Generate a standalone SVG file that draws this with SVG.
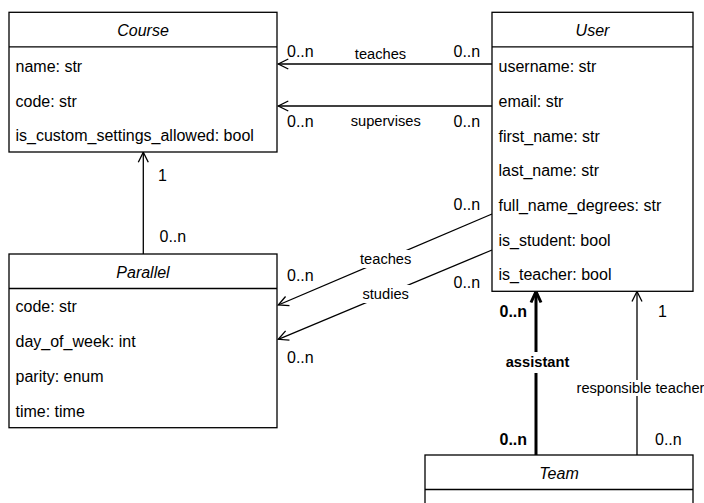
<svg xmlns="http://www.w3.org/2000/svg" width="704" height="503" viewBox="0 0 704 503">
  <defs>
    <style>
      text { font-family: "Liberation Sans", Arial, sans-serif; fill: #000; }
      .box { fill: #fff; stroke: #000; stroke-width: 1.3; }
      .sep { stroke: #000; stroke-width: 1.3; }
      .title { font-size: 16px; font-style: italic; text-anchor: middle; }
      .attr { font-size: 16px; }
      .mult { font-size: 16px; }
      .lbl { font-size: 14.67px; text-anchor: middle; }
      .bold { font-weight: bold; }
      .edge { fill: none; stroke: #000; stroke-width: 1.3; marker-end: url(#open); }
      .edge-bold { fill: none; stroke: #000; stroke-width: 3; marker-end: url(#openBold); }
      .bg { fill: #fff; stroke: none; }
    </style>
    <marker id="open" markerUnits="userSpaceOnUse" markerWidth="14" markerHeight="14" viewBox="0 0 14 14" refX="12" refY="7" orient="auto">
      <path d="M2,2 L12,7 L2,12" fill="none" stroke="#000" stroke-width="1.3"/>
    </marker>
    <marker id="openBold" markerUnits="userSpaceOnUse" markerWidth="16" markerHeight="16" viewBox="0 0 16 16" refX="13" refY="8" orient="auto">
      <path d="M2,3 L13,8 L2,13" fill="none" stroke="#000" stroke-width="3" stroke-linejoin="round"/>
    </marker>
  </defs>

  <!-- associations -->
  <g id="connectors">
    <!-- User teaches Course -->
    <line class="edge" x1="492" y1="64" x2="278.3" y2="64"/>
    <text class="mult" x="287" y="56.5">0..n</text>
    <text class="lbl" x="380.5" y="59">teaches</text>
    <text class="mult" x="453.5" y="56.5">0..n</text>

    <!-- User supervises Course -->
    <line class="edge" x1="492" y1="106" x2="278.3" y2="106"/>
    <text class="mult" x="287" y="126.5">0..n</text>
    <text class="lbl" x="385.7" y="126">supervises</text>
    <text class="mult" x="453.5" y="126.5">0..n</text>

    <!-- Parallel belongs to Course -->
    <line class="edge" x1="143.3" y1="254" x2="143.3" y2="152.3"/>
    <text class="mult" x="158" y="181">1</text>
    <text class="mult" x="159.5" y="241.5">0..n</text>

    <!-- User teaches Parallel -->
    <line class="edge" x1="492" y1="214" x2="278.3" y2="305"/>
    <rect class="bg" x="358" y="250" width="56" height="18"/>
    <text class="lbl" x="385.7" y="264">teaches</text>
    <text class="mult" x="287" y="280.5">0..n</text>
    <text class="mult" x="453.5" y="209.5">0..n</text>

    <!-- User studies Parallel -->
    <line class="edge" x1="492" y1="250" x2="278.3" y2="339.3"/>
    <rect class="bg" x="360" y="285" width="52" height="18"/>
    <text class="lbl" x="385.7" y="299">studies</text>
    <text class="mult" x="287" y="363">0..n</text>
    <text class="mult" x="453.5" y="288">0..n</text>

    <!-- Team assistant -->
    <line class="edge-bold" x1="536" y1="455" x2="536" y2="291.5"/>
    <rect class="bg" x="504" y="352" width="67" height="21"/>
    <text class="lbl bold" x="537.5" y="367">assistant</text>
    <text class="mult bold" x="499.5" y="317">0..n</text>
    <text class="mult bold" x="499.5" y="444.5">0..n</text>

    <!-- Team responsible teacher -->
    <line class="edge" x1="637" y1="455" x2="637" y2="291.5"/>
    <rect class="bg" x="574" y="380" width="130" height="16"/>
    <text class="lbl" x="576.5" y="393" style="text-anchor:start">responsible teacher</text>
    <text class="mult" x="658" y="317">1</text>
    <text class="mult" x="655" y="444.5">0..n</text>
  </g>

  <!-- Course -->
  <g id="course">
    <rect class="box" x="9" y="12.3" width="268" height="139.7"/>
    <line class="sep" x1="9" y1="46.8" x2="277" y2="46.8"/>
    <text class="title" x="143" y="36">Course</text>
    <text class="attr" x="15.5" y="72.3">name: str</text>
    <text class="attr" x="15.5" y="106.5">code: str</text>
    <text class="attr" x="15.5" y="141.3">is_custom_settings_allowed: bool</text>
  </g>

  <!-- User -->
  <g id="user">
    <rect class="box" x="492" y="12.3" width="201" height="279"/>
    <line class="sep" x1="492" y1="46.8" x2="693" y2="46.8"/>
    <text class="title" x="592.5" y="36">User</text>
    <text class="attr" x="498.5" y="72.3">username: str</text>
    <text class="attr" x="498.5" y="106.8">email: str</text>
    <text class="attr" x="498.5" y="141.5">first_name: str</text>
    <text class="attr" x="498.5" y="176.2">last_name: str</text>
    <text class="attr" x="498.5" y="210.9">full_name_degrees: str</text>
    <text class="attr" x="498.5" y="245.6">is_student: bool</text>
    <text class="attr" x="498.5" y="280.3">is_teacher: bool</text>
  </g>

  <!-- Parallel -->
  <g id="parallel">
    <rect class="box" x="9" y="254" width="268" height="173.7"/>
    <line class="sep" x1="9" y1="288.5" x2="277" y2="288.5"/>
    <text class="title" x="143" y="277.5">Parallel</text>
    <text class="attr" x="15.5" y="312.3">code: str</text>
    <text class="attr" x="15.5" y="347">day_of_week: int</text>
    <text class="attr" x="15.5" y="382">parity: enum</text>
    <text class="attr" x="15.5" y="416.8">time: time</text>
  </g>

  <!-- Team -->
  <g id="team">
    <rect class="box" x="425" y="455" width="268" height="70"/>
    <line class="sep" x1="425" y1="489.5" x2="693" y2="489.5"/>
    <text class="title" x="559" y="479">Team</text>
  </g>
</svg>
